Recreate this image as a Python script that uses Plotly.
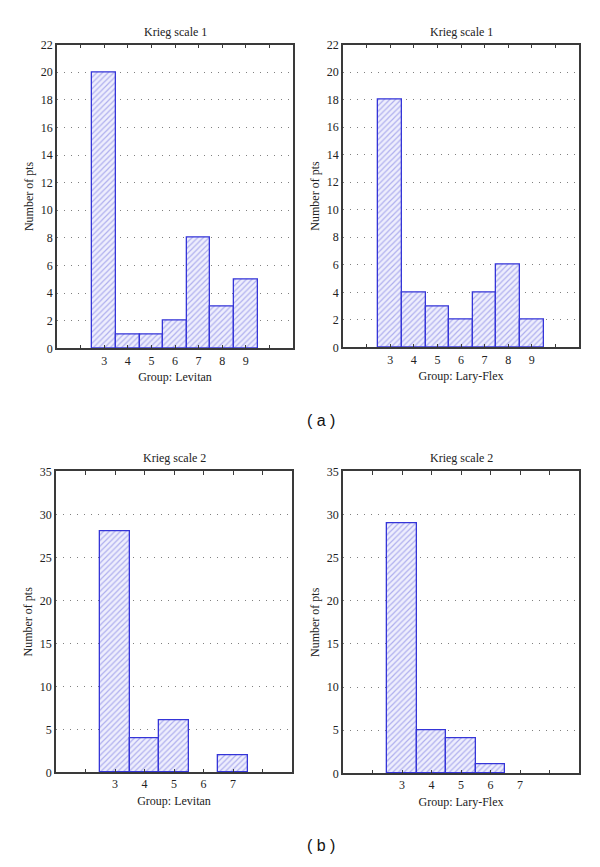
import plotly.graph_objects as go

# ---- data ----
scale1_categories = [3, 4, 5, 6, 7, 8, 9]
scale1_levitan = [20, 1, 1, 2, 8, 3, 5]
scale1_laryflex = [18, 4, 3, 2, 4, 6, 2]

scale2_categories = [3, 4, 5, 6, 7]
scale2_levitan = [28, 4, 6, 0, 2]
scale2_laryflex = [29, 5, 4, 1, 0]

scale1_xticks = [2, 3, 4, 5, 6, 7, 8, 9, 10]
scale1_xticktext = ["", "3", "4", "5", "6", "7", "8", "9", ""]
scale2_xticks = [2, 3, 4, 5, 6, 7, 8]
scale2_xticktext = ["", "3", "4", "5", "6", "7", ""]
scale1_yticks = list(range(0, 23, 2))
scale2_yticks = list(range(0, 36, 5))

panel_titles = ["Krieg scale 1", "Krieg scale 1", "Krieg scale 2", "Krieg scale 2"]
group_titles = ["Group: Levitan", "Group: Lary-Flex", "Group: Levitan", "Group: Lary-Flex"]
y_title = "Number of pts"

# ---- style ----
PAGE_W, PAGE_H = 600, 867
BODY = 8  # default page body margin
W, H = PAGE_W - 2 * BODY, PAGE_H - 2 * BODY
FONT = "Liberation Serif"
EDGE = "#3535d8"
AXIS = "#3a3a3a"
TXT = "#222222"

def px(x):
    return (x - BODY) / W

def py(y):
    return 1 - (y - BODY) / H

panels = [
    (scale1_categories, scale1_levitan, [1, 11], scale1_xticks, scale1_xticktext, scale1_yticks, [0, 22], 57, 293, 38, 347),
    (scale1_categories, scale1_laryflex, [1, 11], scale1_xticks, scale1_xticktext, scale1_yticks, [0, 22], 343, 579, 38, 346),
    (scale2_categories, scale2_levitan, [1, 9], scale2_xticks, scale2_xticktext, scale2_yticks, [0, 35], 56, 292, 472, 778),
    (scale2_categories, scale2_laryflex, [1, 9], scale2_xticks, scale2_xticktext, scale2_yticks, [0, 35], 343, 579, 472, 779),
]

fig = go.Figure()
layout = dict(
    width=W, height=H,
    margin=dict(l=0, r=0, t=0, b=0),
    paper_bgcolor="white", plot_bgcolor="white",
    showlegend=False, bargap=0,
    font=dict(family=FONT, size=12, color=TXT),
)
annotations = []

for i, (xs, ys, xr, xt, xtt, yt, yr, l, r, t, b) in enumerate(panels):
    n = "" if i == 0 else str(i + 1)
    fig.add_trace(go.Bar(
        x=xs, y=ys, xaxis="x" + n, yaxis="y" + n, width=1,
        marker=dict(
            color="#ececfc",
            line=dict(color=EDGE, width=[1.3 if v > 0 else 0 for v in ys]),
            pattern=dict(shape="/", fgcolor="#7070e0", bgcolor="#eeeefd", size=4, solidity=0.3),
        ),
    ))
    layout["xaxis" + n] = dict(
        domain=[px(l), px(r)], anchor="y" + n, range=xr,
        tickvals=xt, ticktext=xtt, ticks="inside", ticklen=4, tickcolor=AXIS,
        showline=True, linecolor=AXIS, linewidth=1.5, mirror="ticks",
        showgrid=False, zeroline=False,
        tickfont=dict(family=FONT, size=12, color=TXT),
        title=dict(text=group_titles[i], standoff=6, font=dict(family=FONT, size=12, color=TXT)),
    )
    layout["yaxis" + n] = dict(
        domain=[py(b), py(t)], anchor="x" + n, range=yr,
        tickvals=yt, ticks="", showline=True, linecolor=AXIS, linewidth=1.5, mirror=True,
        showgrid=True, gridcolor="#808080", griddash="1px,6px", gridwidth=1,
        zeroline=False,
        tickfont=dict(family=FONT, size=12, color=TXT),
        title=dict(text=y_title, standoff=5, font=dict(family=FONT, size=12, color=TXT)),
    )
    annotations.append(dict(
        text=panel_titles[i], x=px((l + r) / 2), y=py(t - 4), xref="paper", yref="paper",
        xanchor="center", yanchor="bottom", showarrow=False,
        font=dict(family=FONT, size=12, color=TXT),
    ))

annotations.append(dict(text="( a )", x=px(321), y=py(420), xref="paper", yref="paper",
                        xanchor="center", yanchor="middle", showarrow=False,
                        font=dict(family="Liberation Sans", size=16, color="#111111")))
annotations.append(dict(text="( b )", x=px(321), y=py(852), xref="paper", yref="paper",
                        xanchor="center", yanchor="middle", showarrow=False,
                        font=dict(family="Liberation Sans", size=16, color="#111111")))
layout["annotations"] = annotations
fig.update_layout(**layout)
fig.write_html("out.html")
